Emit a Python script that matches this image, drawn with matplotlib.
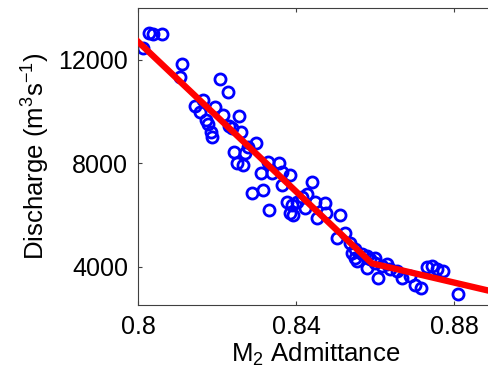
import numpy as np
import matplotlib
matplotlib.use("Agg")
import matplotlib.pyplot as plt

# Observed M2 admittance vs discharge
admittance = [
    0.8013, 0.8028, 0.8038, 0.8061, 0.8111, 0.8106, 0.8208, 0.8228,
    0.8165, 0.8144, 0.8157, 0.8195, 0.8215, 0.8172, 0.8177, 0.8185, 0.8187,
    0.8256, 0.8238, 0.8261, 0.8230, 0.8299, 0.8278, 0.8243, 0.8271, 0.8251, 0.8266,
    0.8329, 0.8357, 0.8311, 0.8339, 0.8385, 0.8365, 0.8365, 0.8289, 0.8316,
    0.8332, 0.8377, 0.8390, 0.8403, 0.8385, 0.8441, 0.8428, 0.8415, 0.8448,
    0.8473, 0.8423, 0.8392, 0.8453, 0.8476, 0.8511, 0.8504, 0.8524,
    0.8537, 0.8542, 0.8549, 0.8554, 0.8567, 0.8580, 0.8587, 0.8600, 0.8580,
    0.8600, 0.8549, 0.8608, 0.8618, 0.8630, 0.8638, 0.8656, 0.8668, 0.8688,
    0.8701, 0.8716, 0.8731, 0.8744, 0.8757, 0.8772, 0.8810,
]
discharge = [
    12470, 13050, 13010, 13010, 11845, 11340, 11260, 10760,
    10450, 10210, 9980, 10175, 9865, 9670, 9515, 9205, 9010,
    9825, 9360, 9205, 9435, 8775, 8620, 8430, 8390, 8000, 7925,
    8040, 8000, 7610, 7610, 7535, 7650, 7145, 6835, 6950,
    6175, 6485, 6370, 6485, 6060, 7265, 6800, 6680, 6485,
    6445, 6255, 5980, 5865, 6060, 5980, 5125, 5320,
    4935, 4545, 4350, 4235, 4505, 4430, 4310, 4350, 3960,
    4155, 4700, 3575, 4040, 4120, 3925, 3845, 3575, 3650,
    3300, 3185, 4000, 4040, 3925, 3845, 2955,
]

# Piecewise linear fit
fit_x = [0.8, 0.8592, 0.89]
fit_y = [12700, 4130, 3030]

plt.rcParams['font.family'] = ['Liberation Sans', 'DejaVu Sans']
plt.rcParams['mathtext.fontset'] = 'custom'
plt.rcParams['mathtext.rm'] = 'Liberation Sans'

fig = plt.figure(figsize=(4.89, 3.82), dpi=100)
ax = fig.add_axes([0.2822, 0.2003, 0.727, 0.7787])

ax.plot(admittance, discharge, 'o', mfc='none', mec=(0, 0, 1),
        ms=8.0, mew=2.0, zorder=2)
ax.plot(fit_x, fit_y, '-', color=(1, 0, 0), lw=4.6, zorder=3)

ax.set_xlim(0.8, 0.89)
ax.set_ylim(2500, 14000)
ax.set_xticks([0.8, 0.84, 0.88])
ax.set_xticklabels(['0.8', '0.84', '0.88'])
ax.set_yticks([4000, 8000, 12000])

ax.tick_params(direction='in', length=3, width=0.8, color='#404040',
               labelsize=18, top=True, pad=7)
for s in ax.spines.values():
    s.set_color('#404040')
    s.set_linewidth(0.8)

ax.set_xlabel(r'M$\mathregular{_{2}}$ Admittance', fontsize=18.5, labelpad=1)
ax.set_ylabel(r'Discharge (m$\mathregular{^{3}}$s$\mathregular{^{-1}}$)',
              fontsize=18.5, labelpad=5)

plt.savefig('out.png', dpi=100)
